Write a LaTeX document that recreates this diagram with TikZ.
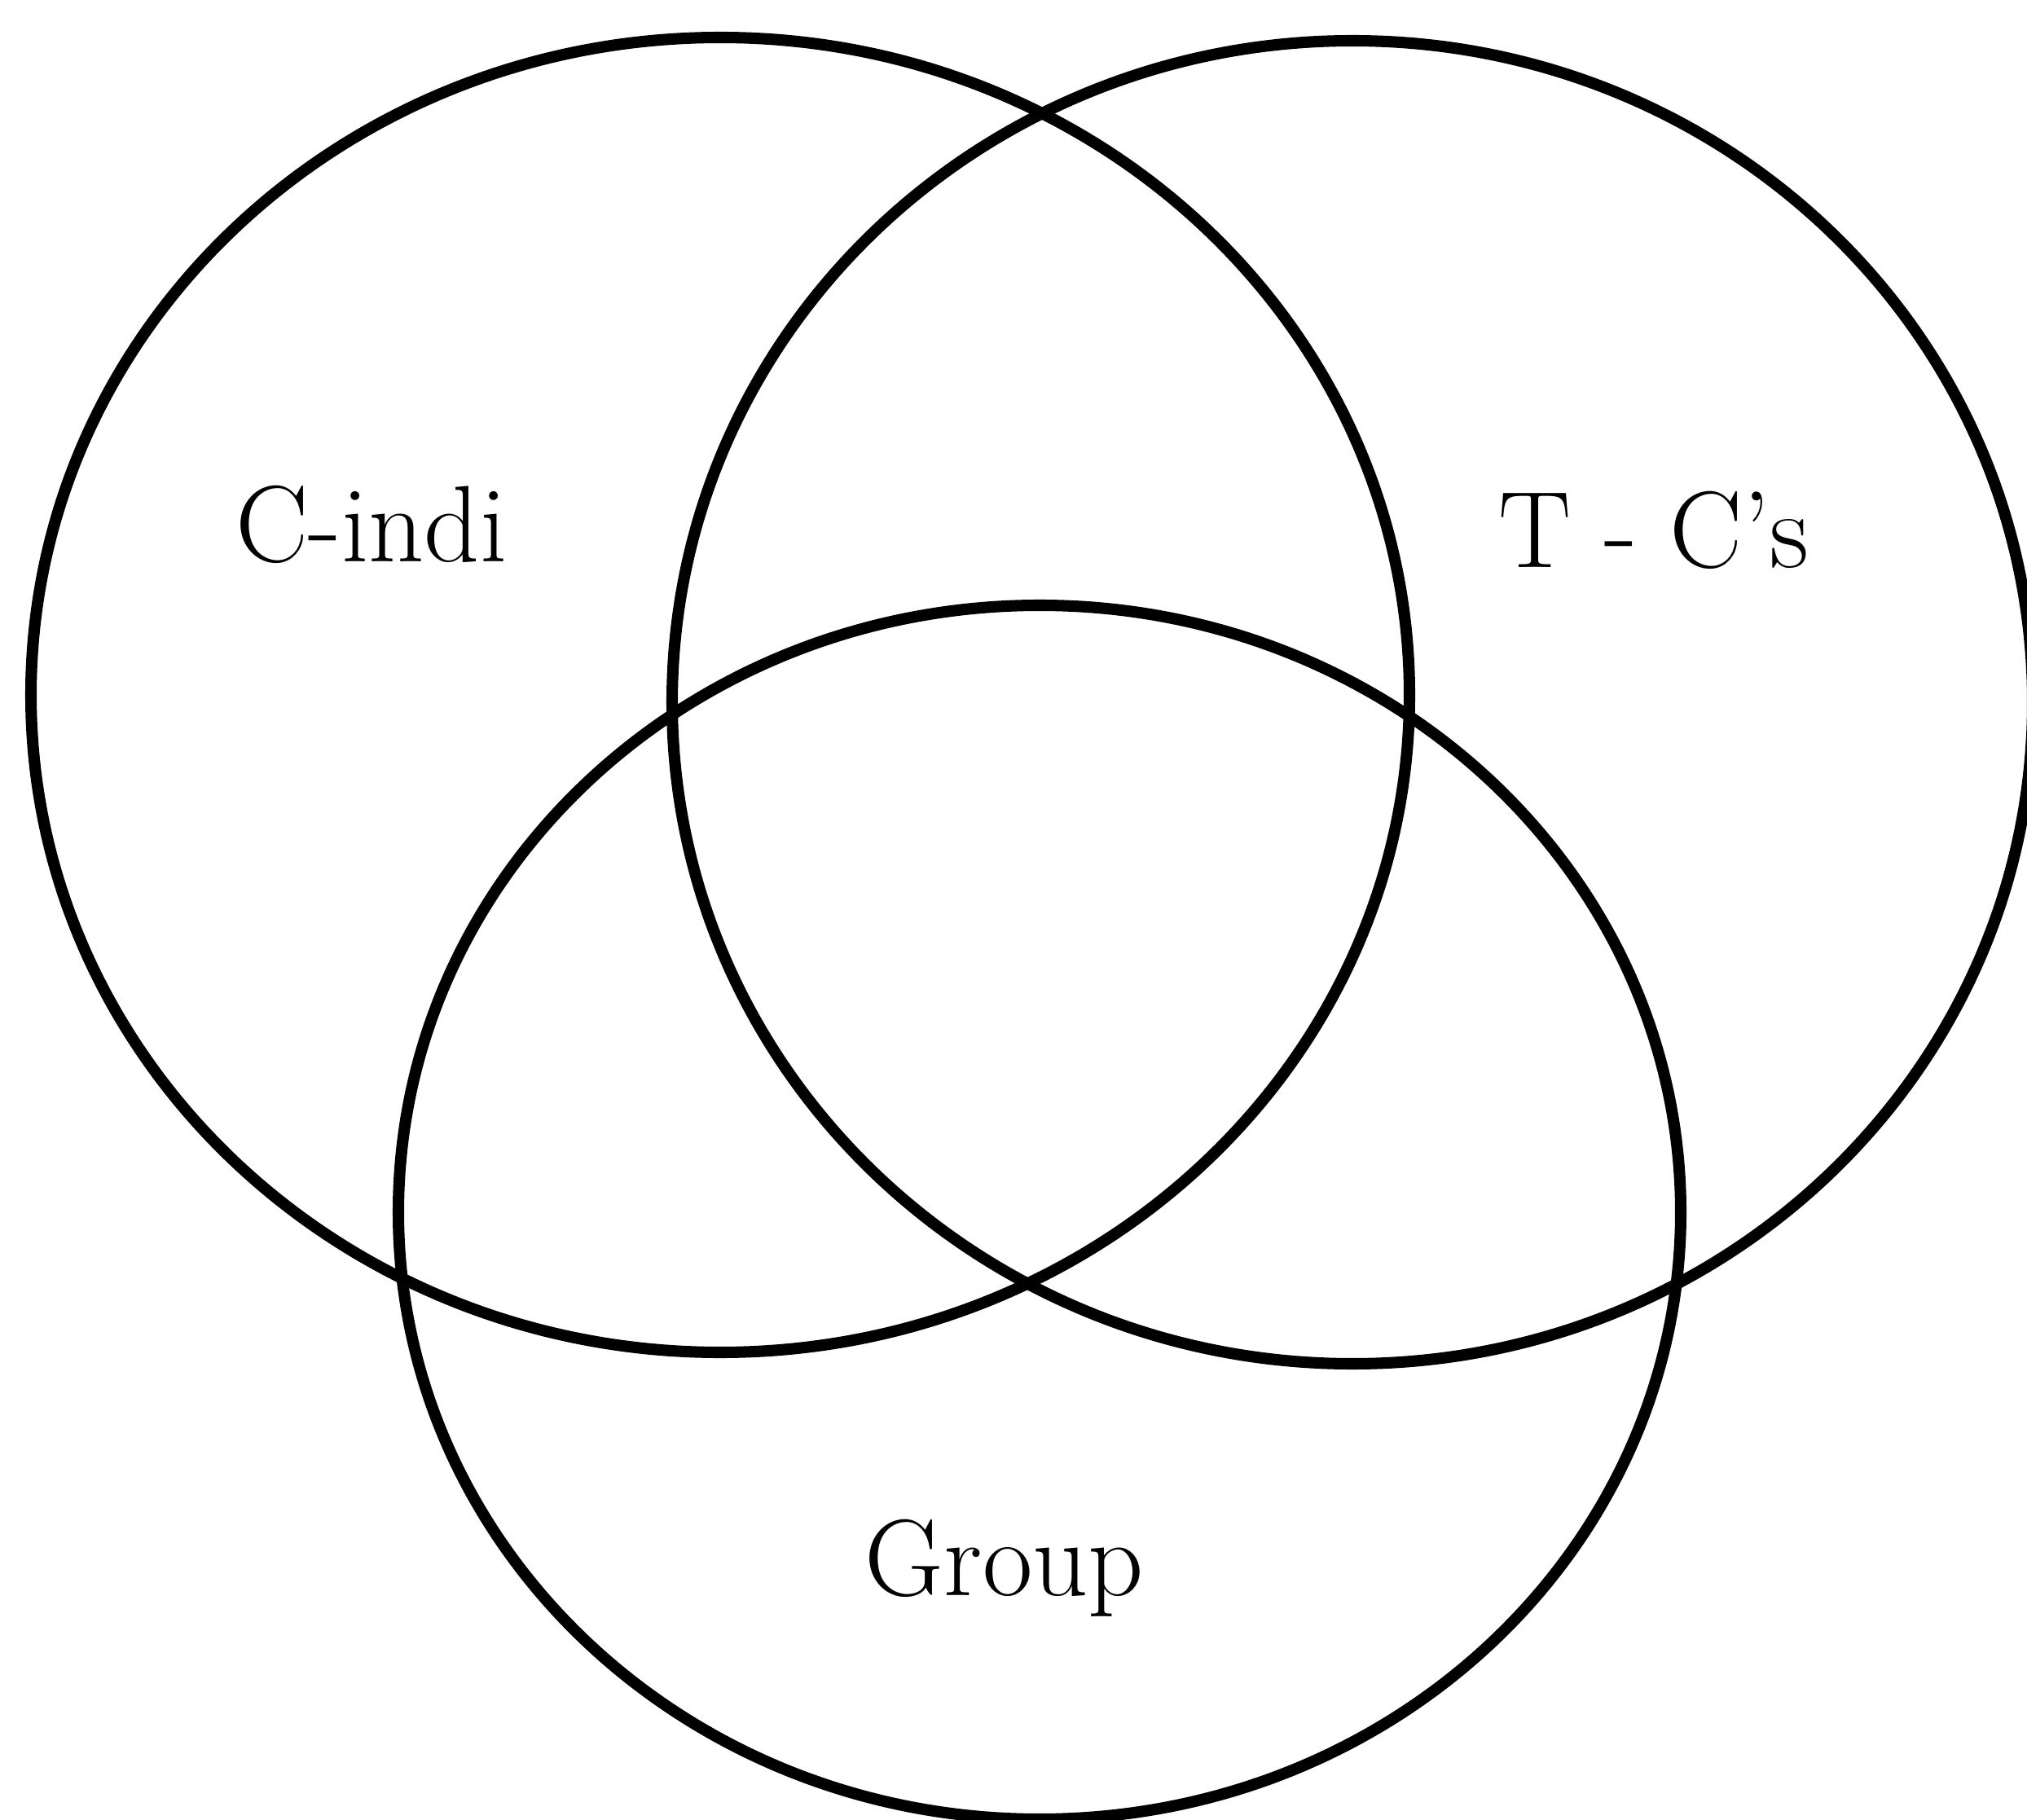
\documentclass[tikz,border=0pt]{standalone}
\begin{document}
\begin{tikzpicture}[
    set/.style={line width=4pt},
    lbl/.style={font=\fontsize{38}{44}\selectfont, anchor=base}]
  \useasboundingbox (0,0) rectangle (24.88,22.33);
  \draw[set] (8.84,13.80) ellipse [x radius=8.46, y radius=8.07];
  \draw[set] (16.60,13.71) ellipse [x radius=8.35, y radius=8.12];
  \draw[set] (12.76,7.45) ellipse [x radius=7.87, y radius=7.45];
  \node[lbl] (cindi) at (4.56,15.43) {C-indi};
  \node[lbl] (tcs) at (20.30,15.36) {T - C's};
  \node[lbl] (group) at (12.33,2.75) {Group};
\end{tikzpicture}
\end{document}
